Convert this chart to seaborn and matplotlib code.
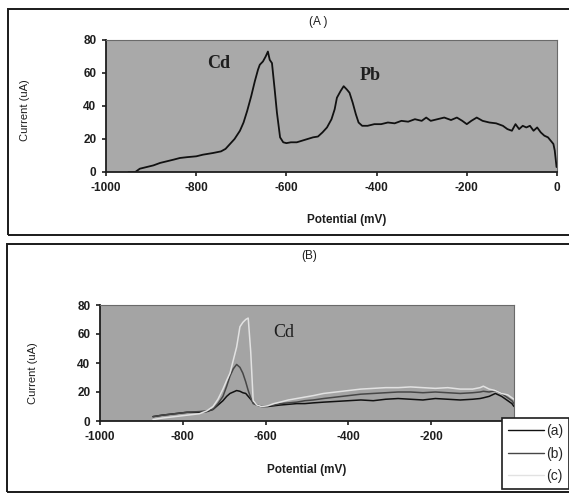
import matplotlib
matplotlib.use('Agg')
import matplotlib.pyplot as plt
import numpy as np
import pandas as pd
import seaborn as sns
from matplotlib.patches import Rectangle

# Panel (A): Cd + Pb stripping voltammogram
pot_a = [-950, -935, -925, -910, -895, -880, -865, -850, -836, -820, -800, -785, -763, -745,
         -735, -725, -715, -703, -695, -687, -678, -670, -663, -659, -652, -646, -641, -637,
         -632, -626, -621, -614, -607, -600, -590, -577, -565, -553, -541, -530, -520, -510,
         -500, -493, -488, -480, -473, -466, -460, -453, -446, -440, -432, -420, -405, -390,
         -375, -360, -345, -330, -315, -300, -290, -280, -265, -250, -235, -222, -210, -200,
         -190, -178, -165, -150, -135, -120, -110, -100, -92, -84, -76, -68, -60, -52, -44,
         -36, -28, -20, -14, -8, -5, -3, -1]
cur_a = [0, 0, 2, 3, 4, 5.5, 6.5, 7.5, 8.5, 9, 9.5, 10.5, 11.5, 12.5,
         14, 17, 20, 25, 30, 37, 46, 55, 62, 65, 67, 70, 73, 68,
         66, 50, 36, 21, 18, 17.5, 18, 18, 19, 20, 21, 21.5, 24, 27,
         32, 38, 45, 49, 52, 50, 48, 42, 35, 30, 28, 28, 29, 29,
         30, 29.5, 31, 30.5, 32, 31, 33, 31, 32, 33, 31.5, 33, 31, 29,
         31, 33, 31, 30, 29.5, 28, 26, 25, 29, 26, 28, 27, 28, 25, 27,
         24, 22, 21, 19, 17, 13, 8, 3]

# Panel (B): Cd peaks for three conditions
pot_b = [-872, -850, -820, -790, -760, -742, -727, -715, -703, -694, -686, -678, -670,
         -662, -655, -648, -642, -636, -630, -621, -610, -595, -580, -565, -545, -525,
         -505, -485, -460, -430, -400, -370, -340, -310, -280, -250, -220, -190, -160,
         -130, -100, -82, -74, -60, -45, -30, -15, -5, 0]
cur_b_a = [3, 4, 5, 6, 6, 6.5, 8, 11, 14, 17, 19, 20, 21,
           20.5, 19.5, 19, 17, 15, 13, 11, 10, 10, 10.5, 11, 11.5, 12,
           12, 12.5, 13, 13.5, 14, 14.5, 14, 15, 15.5, 15, 14.5, 15.5, 15,
           14.5, 15, 15.5, 16, 17, 19, 17, 14, 12, 10]
cur_b_b = [3, 4, 5, 6, 6.5, 7, 8, 12, 17, 24, 31, 36, 39,
           37, 33, 27, 21, 16, 12, 11, 10, 10.5, 11, 12, 12.5, 13,
           14, 14.5, 15.5, 16.5, 17.5, 18.5, 19, 19.5, 20, 20, 19.5, 20, 19.5,
           19, 19.5, 20, 20.5, 20, 21, 19, 16, 14, 12]
cur_b_c = [1, 2, 3, 4, 5, 7, 10, 15, 22, 28, 33, 42, 51,
           65, 68, 70, 71, 48, 14, 11, 10, 10.5, 12, 13, 14.5, 15.5,
           16.5, 17.5, 19, 20, 21, 22, 22.5, 23, 23, 23.5, 23, 22.5, 23,
           22, 22, 23, 24, 22, 21, 19, 18, 16, 15]
labels_b = ['(a)', '(b)', '(c)']

df_a = pd.DataFrame({'Potential': pot_a, 'Current': cur_a})
df_b = pd.concat([pd.DataFrame({'Potential': pot_b, 'Current': c, 'run': lab})
                  for c, lab in zip([cur_b_a, cur_b_b, cur_b_c], labels_b)], ignore_index=True)

sns.set_style('white')
plt.rcParams['font.family'] = ['Liberation Sans', 'DejaVu Sans']

W, H = 569, 493
fig = plt.figure(figsize=(W / 100, H / 100), dpi=100)


def fx(px):
    return px / W


def fy(py):
    return 1 - py / H


# panel frames
frame_kw = dict(transform=fig.transFigure, fill=False, edgecolor='#1a1a1a', linewidth=1.4)
fig.patches.append(Rectangle((fx(8), fy(235)), 1.0, (235 - 9) / H, **frame_kw))
fig.patches.append(Rectangle((fx(7), fy(492)), 1.0, (492 - 244) / H, **frame_kw))

ax1 = fig.add_axes([fx(106), fy(172), (557 - 106) / W, (172 - 40) / H])
ax2 = fig.add_axes([fx(100), fy(421), (514 - 100) / W, (421 - 305) / H])

ink = '#1e1e1e'
tick_kw = dict(fontsize=8.5, fontweight='bold', color=ink)

# (A)
ax1.set_facecolor('#a9a9a9')
sns.lineplot(data=df_a, x='Potential', y='Current', ax=ax1, color='#111111', linewidth=1.3)
ax1.text(-776, 63, 'Cd', family='Liberation Serif', fontsize=13, fontweight='bold', color=ink)
ax1.text(-437, 56, 'Pb', family='Liberation Serif', fontsize=13, fontweight='bold', color=ink)

# (B)
ax2.set_facecolor('#a4a4a4')
sns.lineplot(data=df_b, x='Potential', y='Current', hue='run', ax=ax2,
             palette=['#111111', '#474747', '#e2e2e2'], linewidth=1.1)
ax2.text(-582, 58, 'Cd', family='Liberation Serif', fontsize=13, color=ink)

for ax in (ax1, ax2):
    ax.set_xlim(-1000, 0)
    ax.set_ylim(0, 80)
    ax.set_xticks([-1000, -800, -600, -400, -200, 0])
    ax.set_xticklabels(['-1000', '-800', '-600', '-400', '-200', '0'], **tick_kw)
    ax.set_yticks([0, 20, 40, 60, 80])
    ax.set_yticklabels(['0', '20', '40', '60', '80'], **tick_kw)
    ax.tick_params(axis='both', length=3, width=1.2, color=ink, bottom=True, left=True, pad=4)
    ax.set_xlabel('')
    ax.set_ylabel('')
    for side in ('top', 'right'):
        ax.spines[side].set_color('#6a6a6a')
        ax.spines[side].set_linewidth(0.8)
    for side in ('left', 'bottom'):
        ax.spines[side].set_color(ink)
        ax.spines[side].set_linewidth(1.3)

ax2.set_xticklabels(['-1000', '-800', '-600', '-400', '-200', ''], **tick_kw)

# titles and axis labels placed like the scanned figure
fig.text(fx(318), fy(22), '(A )', fontsize=8.5, color=ink, ha='center', va='center')
fig.text(fx(309), fy(256), '(B)', fontsize=8.5, color=ink, ha='center', va='center')
fig.text(fx(347), fy(220), 'Potential (mV)', fontsize=8.5, fontweight='bold', color=ink,
         ha='center', va='center')
fig.text(fx(307), fy(470), 'Potential (mV)', fontsize=8.5, fontweight='bold', color=ink,
         ha='center', va='center')
fig.text(fx(25), fy(110), 'Current (uA)', fontsize=8, color=ink, rotation=90, ha='center', va='center')
fig.text(fx(33), fy(373), 'Current (uA)', fontsize=8, color=ink, rotation=90, ha='center', va='center')

leg = ax2.legend(loc='upper left', bbox_to_anchor=(fx(502), fy(418)), bbox_transform=fig.transFigure,
                 frameon=True, fancybox=False, fontsize=10, handlelength=2.6, handletextpad=0.1,
                 borderpad=0.45, labelspacing=0.6, borderaxespad=0)
leg.get_frame().set_edgecolor(ink)
leg.get_frame().set_linewidth(1.2)
leg.get_frame().set_facecolor('white')
leg.get_frame().set_alpha(1)
for line in leg.get_lines():
    line.set_linewidth(1.0)

fig.savefig('out.png', dpi=100)
